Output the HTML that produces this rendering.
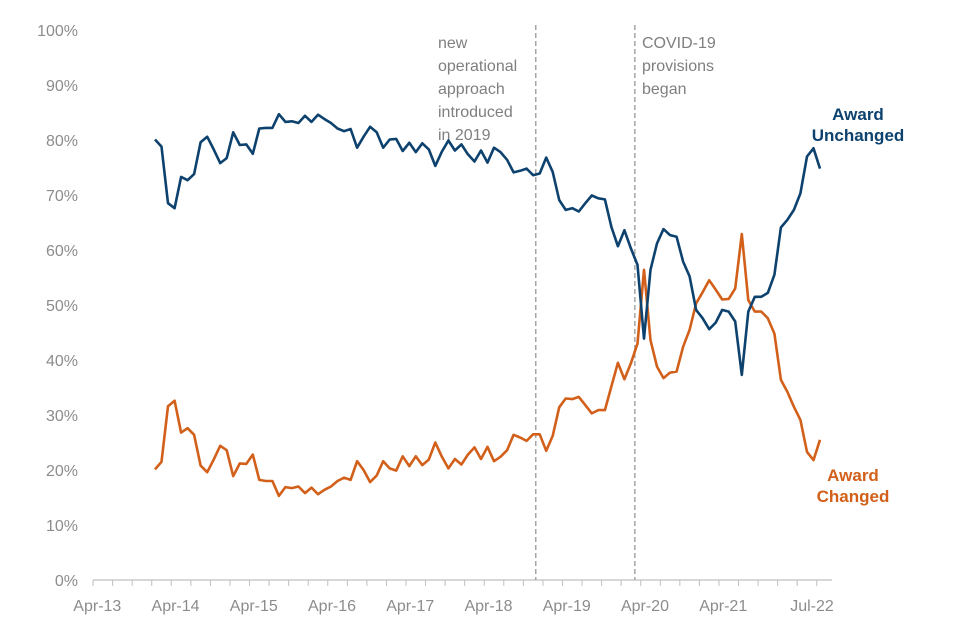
<!DOCTYPE html>
<html><head><meta charset="utf-8"><style>
html,body{margin:0;padding:0;background:#fff;}
svg{display:block;font-family:"Liberation Sans",Arial,sans-serif;}
</style></head><body>
<svg id="chart" width="960" height="640" viewBox="0 0 960 640"></svg>
<script>
const monthIndexStart = 0; // Jan-14
const unchanged = [80.1,78.8,68.5,67.6,73.3,72.7,73.8,79.6,80.6,78.3,75.8,76.7,81.4,79.1,79.2,77.5,82.1,82.2,82.2,84.7,83.3,83.4,83.1,84.4,83.3,84.6,83.8,83.1,82.1,81.6,82.0,78.6,80.6,82.4,81.4,78.6,80.1,
80.2,78.0,79.5,77.8,79.4,78.3,75.3,77.9,79.9,78.1,79.2,77.4,76.1,78.1,75.9,78.6,77.8,76.4,74.1,74.4,74.8,73.6,73.9,76.8,74.2,69.1,67.3,67.6,67.0,68.5,69.9,69.4,69.2,64.2,60.7,63.6,
60.3,57.3,43.9,56.4,61.2,63.8,62.7,62.4,57.9,55.2,49.1,47.6,45.6,46.8,49.1,48.8,47.0,37.3,48.8,51.5,51.5,52.2,55.5,64.1,65.5,67.3,70.3,77.0,78.5,74.8];
const changed = [20.1,21.5,31.6,32.6,26.8,27.6,26.4,20.8,19.6,21.9,24.4,23.6,18.9,21.2,21.1,22.8,18.2,18.0,18.0,15.3,16.9,16.7,17.0,15.8,16.8,15.6,16.4,17.0,18.0,18.6,18.2,21.6,20.0,17.8,19.0,21.6,20.3,
19.9,22.5,20.7,22.5,20.9,21.9,25.0,22.4,20.3,22.0,21.0,22.8,24.1,22.0,24.2,21.6,22.4,23.6,26.4,25.9,25.3,26.5,26.5,23.5,26.2,31.4,33.0,32.9,33.3,31.8,30.3,30.9,30.9,35.2,39.5,36.5,
39.4,43.0,56.4,43.6,38.8,36.7,37.7,37.9,42.4,45.5,50.3,52.3,54.5,52.8,51.0,51.1,53.0,62.9,50.9,48.8,48.8,47.6,44.8,36.4,34.2,31.5,29.1,23.3,21.8,25.5];
const yTicks = [0,10,20,30,40,50,60,70,80,90,100];
const xLabels = ["Apr-13","Apr-14","Apr-15","Apr-16","Apr-17","Apr-18","Apr-19","Apr-20","Apr-21"];
const xLabelIdx = [-9,3,15,27,39,51,63,75,87];
const eventIdx = [58.4,73.6];

const NS="http://www.w3.org/2000/svg";
const svg=document.getElementById('chart');
const X0=155, X1=820, Y0=580, Y1=30;
const x=i=>X0+(i)*(X1-X0)/(unchanged.length-1);
const y=v=>Y0-(v/100)*(Y0-Y1);
function mk(tag,attrs,parent){const e=document.createElementNS(NS,tag);for(const k in attrs)e.setAttribute(k,attrs[k]);(parent||svg).appendChild(e);return e;}
const grey="#7f7f7f";

// y labels
yTicks.forEach(t=>{const e=mk('text',{x:78,y:y(t)+6,'text-anchor':'end','font-size':'16',fill:'#8c8c8c'});e.textContent=t+'%';

});
// x axis
const ax=mk('line',{x1:93,x2:832,y1:Y0,y2:Y0,stroke:'#bfbfbf','stroke-width':1.3});


for(let i=-10;i<=105;i+=3){const tx=x(i+1)-3.26; if(tx<93||tx>832)continue;
const t=mk('line',{x1:x(i+0.5),x2:x(i+0.5),y1:Y0,y2:Y0+6,stroke:'#bfbfbf','stroke-width':1});

}
xLabels.forEach((l,k)=>{const e=mk('text',{x:x(xLabelIdx[k])+1,y:611,'text-anchor':'middle','font-size':'16',fill:'#8c8c8c'});e.textContent=l;

});
const jl=mk('text',{x:812,y:611,'text-anchor':'middle','font-size':'16',fill:'#8c8c8c'});jl.textContent='Jul-22';



// event lines
eventIdx.forEach(ei=>{const l=mk('line',{x1:x(ei),x2:x(ei),y1:25,y2:Y0,stroke:'#a6a6a6','stroke-width':1.5,'stroke-dasharray':'5,3'});

});
function lines(arr,x0,y0,name){const t=mk('text',{x:x0,y:y0,'font-size':'16',fill:grey});


arr.forEach((s,i)=>{const ts=mk('tspan',{x:x0,dy:i?23:0},t);ts.textContent=s;});}
lines(["new","operational","approach","introduced","in 2019"],438,48,'annotation-new-approach');
lines(["COVID-19","provisions","began"],642,48,'annotation-covid');

// series
function series(arr,color,name){const d=arr.map((v,i)=>(i?'L':'M')+x(i).toFixed(1)+','+y(v).toFixed(1)).join('');
const p=mk('path',{d:d,fill:'none',stroke:color,'stroke-width':2.6,'stroke-linejoin':'round'});

}
series(changed,'#d2601a','award-changed-line');
series(unchanged,'#0e426e','award-unchanged-line');

function label(arr,cx,y0,color,name){const t=mk('text',{x:cx,y:y0,'text-anchor':'middle','font-size':'17','font-weight':'bold',fill:color});


arr.forEach((s,i)=>{const ts=mk('tspan',{x:cx,dy:i?21:0},t);ts.textContent=s;});}
label(["Award","Unchanged"],858,120,'#0e426e','award-unchanged-label');
label(["Award","Changed"],853,481,'#d2601a','award-changed-label');
</script>
</body></html>
